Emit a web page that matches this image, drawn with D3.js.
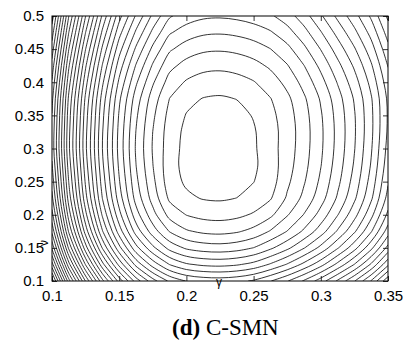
<!DOCTYPE html>
<html>
<head>
<meta charset="utf-8">
<script src="https://cdn.jsdelivr.net/npm/d3@7"></script>
<style>
  body { margin: 0; background: #fff; }
  svg { display: block; }
  .tick text { font-family: "Liberation Sans", Arial, sans-serif; font-size: 15px; fill: #000; }
</style>
</head>
<body>
<div id="chart"></div>
<script>
// sample grid: value = number of contour lines away from the minimum
const gammaGrid = [0.1, 0.1125, 0.125, 0.1375, 0.15, 0.1625, 0.175, 0.1875, 0.2, 0.2125, 0.225,
  0.2375, 0.25, 0.2625, 0.275, 0.2875, 0.3, 0.3125, 0.325, 0.3375, 0.35];
const nuGrid = [0.5, 0.475, 0.45, 0.425, 0.4, 0.375, 0.35, 0.325, 0.3, 0.275, 0.25, 0.225, 0.2, 0.175, 0.15, 0.125, 0.1];

const surface = [
  [31.52, 25.02, 20.02, 15.82, 12.37, 9.87, 7.77, 6.12, 5.52, 5.19, 5.12, 5.23, 5.47, 5.85, 6.53, 7.56, 8.85, 10.24, 11.61, 13.18, 15.22],
  [30.49, 23.99, 18.99, 14.79, 11.35, 8.82, 6.74, 5.11, 4.49, 4.16, 4.09, 4.21, 4.47, 4.89, 5.60, 6.63, 7.92, 9.32, 10.73, 12.34, 14.43],
  [29.51, 23.01, 18.01, 13.81, 10.38, 7.82, 5.75, 4.15, 3.51, 3.18, 3.11, 3.23, 3.51, 3.98, 4.71, 5.76, 7.04, 8.46, 9.89, 11.56, 13.69],
  [28.63, 22.13, 17.13, 12.93, 9.51, 6.92, 4.87, 3.29, 2.63, 2.30, 2.23, 2.36, 2.66, 3.17, 3.93, 4.98, 6.26, 7.69, 9.16, 10.87, 13.05],
  [27.89, 21.39, 16.39, 12.19, 8.79, 6.16, 4.13, 2.57, 1.89, 1.57, 1.49, 1.63, 1.94, 2.50, 3.29, 4.35, 5.62, 7.07, 8.56, 10.32, 12.56],
  [27.28, 20.78, 15.78, 11.58, 8.19, 5.52, 3.51, 1.98, 1.27, 0.96, 0.88, 1.02, 1.36, 1.96, 2.77, 3.84, 5.11, 6.57, 8.10, 9.90, 12.19],
  [26.96, 20.46, 15.46, 11.26, 7.88, 5.18, 3.19, 1.68, 0.95, 0.64, 0.56, 0.71, 1.06, 1.71, 2.55, 3.62, 4.89, 6.36, 7.92, 9.78, 12.11],
  [26.77, 20.27, 15.27, 11.07, 7.70, 4.97, 2.99, 1.51, 0.76, 0.45, 0.37, 0.52, 0.90, 1.59, 2.45, 3.54, 4.80, 6.29, 7.88, 9.78, 12.16],
  [26.70, 20.20, 15.20, 11.00, 7.64, 4.88, 2.92, 1.46, 0.69, 0.38, 0.30, 0.46, 0.86, 1.59, 2.48, 3.57, 4.83, 6.33, 7.95, 9.90, 12.33],
  [27.10, 20.52, 15.46, 11.20, 7.80, 5.01, 3.02, 1.36, 0.70, 0.44, 0.37, 0.51, 0.84, 1.47, 2.58, 3.68, 4.96, 6.48, 8.12, 10.09, 12.55],
  [27.62, 20.96, 15.83, 11.53, 8.08, 5.25, 3.25, 1.43, 0.85, 0.62, 0.56, 0.68, 0.98, 1.53, 2.79, 3.91, 5.20, 6.74, 8.40, 10.40, 12.89],
  [28.27, 21.53, 16.34, 11.98, 8.50, 5.63, 3.60, 1.81, 1.19, 0.94, 0.88, 1.01, 1.32, 1.91, 3.14, 4.27, 5.58, 7.14, 8.82, 10.84, 13.36],
  [29.34, 22.52, 17.27, 12.86, 9.33, 6.43, 4.37, 2.66, 1.97, 1.69, 1.62, 1.76, 2.12, 2.78, 3.91, 5.05, 6.38, 7.95, 9.65, 11.70, 14.25],
  [30.76, 23.85, 18.54, 14.08, 10.51, 7.58, 5.49, 3.94, 3.12, 2.80, 2.71, 2.88, 3.30, 4.08, 5.03, 6.18, 7.52, 9.12, 10.84, 12.91, 15.49],
  [32.80, 25.81, 20.44, 15.92, 12.31, 9.34, 7.24, 5.67, 4.84, 4.51, 4.42, 4.59, 5.02, 5.81, 6.76, 7.94, 9.29, 10.90, 12.64, 14.74, 17.35],
  [35.42, 28.35, 22.91, 18.35, 14.69, 11.69, 9.56, 7.97, 7.13, 6.80, 6.71, 6.88, 7.31, 8.11, 9.08, 10.27, 11.64, 13.27, 15.03, 17.15, 19.79],
  [38.57, 31.42, 25.92, 21.30, 17.60, 14.57, 12.41, 10.81, 9.96, 9.62, 9.53, 9.71, 10.14, 10.95, 11.93, 13.13, 14.51, 16.16, 17.95, 20.09, 22.76]
];

const levels = [1, 2, 3, 4, 5, 6, 7, 8, 9, 10, 11, 12, 13, 14, 15, 16, 17, 18, 19, 20,
  21, 22, 23, 24, 25, 26, 27, 28, 29, 30, 31, 32, 33, 34, 35, 36, 37, 38, 39, 40];

const xTicks = [0.1, 0.15, 0.2, 0.25, 0.3, 0.35];
const yTicks = [0.1, 0.15, 0.2, 0.25, 0.3, 0.35, 0.4, 0.45, 0.5];

const margin = {top: 16, left: 52};
const width = 336, height = 265;

const svg = d3.select("#chart").append("svg")
  .attr("width", 414)
  .attr("height", 341);

const g = svg.append("g")
  .attr("transform", "translate(" + margin.left + "," + margin.top + ")");

const x = d3.scaleLinear().domain([0.1, 0.35]).range([0, width]);
const y = d3.scaleLinear().domain([0.1, 0.5]).range([height, 0]);

// grid index -> parameter value
const colToGamma = d3.scaleLinear().domain(gammaGrid.map((d, i) => i)).range(gammaGrid);
const rowToNu = d3.scaleLinear().domain(nuGrid.map((d, i) => i)).range(nuGrid);

g.append("clipPath").attr("id", "plotclip")
  .append("rect").attr("width", width).attr("height", height);

const nx = gammaGrid.length, ny = nuGrid.length;
const bands = d3.contours().size([nx, ny]).thresholds(levels)(surface.flat());

const onEdge = p => p[0] <= 0 || p[0] >= nx || p[1] <= 0 || p[1] >= ny;
const toPx = p => [x(colToGamma(p[0] - 0.5)), y(rowToNu(p[1] - 0.5))];

// cut each ring where it runs along the outside of the grid
function pieces(ring) {
  const pts = ring.slice(0, -1);
  const k = pts.findIndex(onEdge);
  if (k < 0) return [{closed: true, pts: pts}];
  const rot = pts.slice(k).concat(pts.slice(0, k));
  const out = [];
  let cur = [];
  rot.forEach(p => {
    if (onEdge(p)) {
      if (cur.length > 1) out.push({closed: false, pts: cur});
      cur = [];
    } else cur.push(p);
  });
  if (cur.length > 1) out.push({closed: false, pts: cur});
  return out;
}

const lines = [];
bands.forEach(b => {
  b.coordinates.forEach(poly => poly.forEach(ring => {
    pieces(ring).forEach(pc => lines.push({closed: pc.closed, pts: pc.pts.map(toPx)}));
  }));
});

const lineOpen = d3.line().curve(d3.curveCatmullRom.alpha(0.5));
const lineClosed = d3.line().curve(d3.curveCatmullRomClosed.alpha(0.5));

g.append("g")
  .attr("clip-path", "url(#plotclip)")
  .selectAll("path")
  .data(lines)
  .enter()
    .append("path")
    .attr("d", d => d.closed ? lineClosed(d.pts) : lineOpen(d.pts))
    .attr("fill", "none")
    .attr("stroke", "#000")
    .attr("stroke-width", 0.8);

// axes, MATLAB style: ticks point inward on all four sides
const fmt = d => String(+d.toFixed(2));

g.append("g")
  .attr("transform", "translate(0," + height + ")")
  .call(d3.axisBottom(x).tickValues(xTicks).tickFormat(fmt).tickSize(-5).tickPadding(9));

g.append("g")
  .call(d3.axisLeft(y).tickValues(yTicks).tickFormat(fmt).tickSize(-5).tickPadding(8));

g.append("g")
  .call(d3.axisTop(x).tickValues(xTicks).tickFormat("").tickSize(-5));

g.append("g")
  .attr("transform", "translate(" + width + ",0)")
  .call(d3.axisRight(y).tickValues(yTicks).tickFormat("").tickSize(-5));

g.selectAll(".domain").remove();
g.selectAll(".tick line").attr("stroke", "#000").attr("stroke-width", 0.8);

g.append("rect")
  .attr("width", width)
  .attr("height", height)
  .attr("fill", "none")
  .attr("stroke", "#000")
  .attr("stroke-width", 1);

// axis names
svg.append("text")
  .attr("x", 219)
  .attr("y", 286)
  .attr("text-anchor", "middle")
  .style("font-family", "'Liberation Sans', Arial, sans-serif")
  .style("font-size", "12px")
  .text("γ");

svg.append("text")
  .attr("transform", "translate(48,243) rotate(-90)")
  .attr("text-anchor", "middle")
  .style("font-family", "'Liberation Sans', Arial, sans-serif")
  .style("font-size", "12px")
  .text("ν");

// caption
const cap = svg.append("text")
  .attr("x", 172)
  .attr("y", 335)
  .style("font-family", "'Liberation Serif', 'Times New Roman', serif")
  .style("font-size", "23px");
cap.append("tspan").style("font-weight", "bold").text("(d)");
cap.append("tspan").text(" C-SMN");
</script>
</body>
</html>
